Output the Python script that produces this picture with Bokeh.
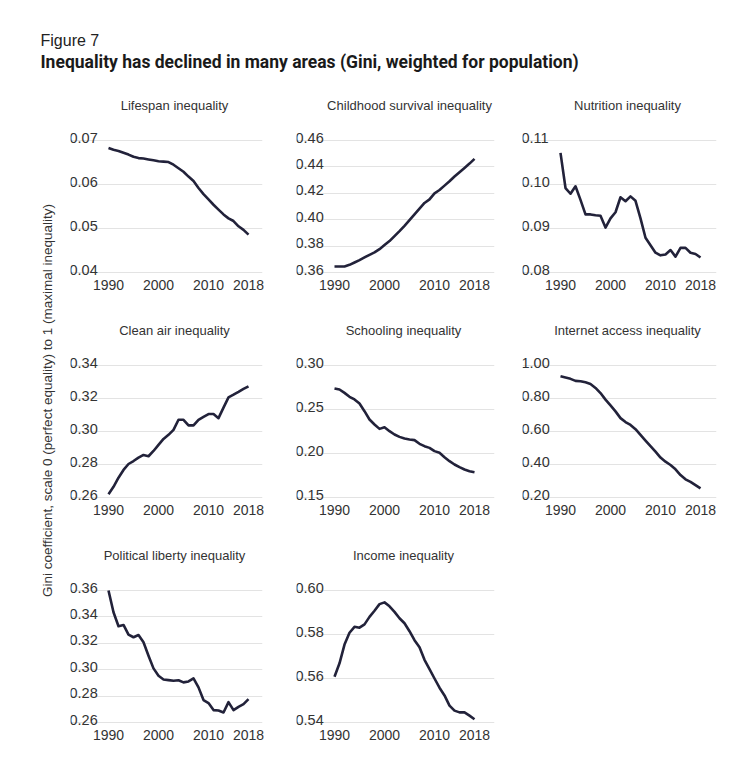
import math
from bokeh.plotting import figure
from bokeh.layouts import column, row, gridplot
from bokeh.models import FixedTicker, Range1d, Label
from bokeh.core.properties import value
from bokeh.embed import file_html
from bokeh.resources import INLINE

# ---------------- data ----------------
years = list(range(1990, 2019))

panel_titles = [
    "Lifespan inequality", "Childhood survival inequality", "Nutrition inequality",
    "Clean air inequality", "Schooling inequality", "Internet access inequality",
    "Political liberty inequality", "Income inequality",
]

lifespan = [0.0683, 0.0679, 0.0676, 0.0672, 0.0668, 0.0663, 0.0660, 0.0659, 0.0657, 0.0655,
            0.0653, 0.0652, 0.0651, 0.0645, 0.0637, 0.0629, 0.0618, 0.0608, 0.0592, 0.0578,
            0.0566, 0.0554, 0.0543, 0.0532, 0.0523, 0.0517, 0.0505, 0.0497, 0.0486]
childhood = [0.3645, 0.3645, 0.3646, 0.3658, 0.3676, 0.3694, 0.3714, 0.3734, 0.3752, 0.3777,
             0.3808, 0.3838, 0.3876, 0.3914, 0.3954, 0.3997, 0.4041, 0.4084, 0.4127, 0.4154,
             0.4200, 0.4225, 0.4258, 0.4291, 0.4327, 0.4360, 0.4392, 0.4425, 0.4461]
nutrition = [0.1072, 0.0992, 0.0979, 0.0996, 0.0965, 0.0932, 0.0932, 0.0930, 0.0929, 0.0902,
             0.0923, 0.0937, 0.0971, 0.0962, 0.0973, 0.0963, 0.0923, 0.0879, 0.0862, 0.0845,
             0.0839, 0.0841, 0.0851, 0.0836, 0.0856, 0.0856, 0.0845, 0.0842, 0.0834]
clean_air = [0.2620, 0.2665, 0.2720, 0.2767, 0.2803, 0.2821, 0.2842, 0.2858, 0.2850, 0.2882,
             0.2919, 0.2955, 0.2980, 0.3010, 0.3071, 0.3071, 0.3037, 0.3037, 0.3071, 0.3089,
             0.3106, 0.3106, 0.3081, 0.3145, 0.3207, 0.3223, 0.3240, 0.3258, 0.3274]
schooling = [0.2739, 0.2727, 0.2689, 0.2644, 0.2614, 0.2568, 0.2481, 0.2386, 0.2330, 0.2280,
             0.2299, 0.2254, 0.2216, 0.2189, 0.2170, 0.2159, 0.2152, 0.2110, 0.2083, 0.2064,
             0.2027, 0.2008, 0.1958, 0.1913, 0.1875, 0.1845, 0.1818, 0.1799, 0.1788]
internet = [0.935, 0.927, 0.919, 0.907, 0.905, 0.898, 0.888, 0.864, 0.833, 0.793,
            0.758, 0.722, 0.681, 0.657, 0.640, 0.614, 0.579, 0.545, 0.512, 0.478,
            0.442, 0.417, 0.397, 0.371, 0.336, 0.310, 0.295, 0.275, 0.255]
political = [0.3600, 0.3435, 0.3329, 0.3339, 0.3266, 0.3246, 0.3263, 0.3208, 0.3106, 0.3010,
             0.2954, 0.2926, 0.2921, 0.2916, 0.2920, 0.2904, 0.2911, 0.2934, 0.2866, 0.2770,
             0.2747, 0.2694, 0.2691, 0.2676, 0.2754, 0.2694, 0.2719, 0.2739, 0.2777]
income = [0.5608, 0.5669, 0.5754, 0.5808, 0.5835, 0.5831, 0.5846, 0.5880, 0.5908, 0.5938,
          0.5946, 0.5928, 0.5903, 0.5874, 0.5851, 0.5815, 0.5774, 0.5742, 0.5685, 0.5643,
          0.5600, 0.5558, 0.5523, 0.5477, 0.5454, 0.5446, 0.5446, 0.5431, 0.5415]

series = [lifespan, childhood, nutrition, clean_air, schooling, internet, political, income]

y_ticks = [
    [0.04, 0.05, 0.06, 0.07],
    [0.36, 0.38, 0.40, 0.42, 0.44, 0.46],
    [0.08, 0.09, 0.10, 0.11],
    [0.26, 0.28, 0.30, 0.32, 0.34],
    [0.15, 0.20, 0.25, 0.30],
    [0.20, 0.40, 0.60, 0.80, 1.00],
    [0.26, 0.28, 0.30, 0.32, 0.34, 0.36],
    [0.54, 0.56, 0.58, 0.60],
]
y_tick_labels = [
    ["0.04", "0.05", "0.06", "0.07"],
    ["0.36", "0.38", "0.40", "0.42", "0.44", "0.46"],
    ["0.08", "0.09", "0.10", "0.11"],
    ["0.26", "0.28", "0.30", "0.32", "0.34"],
    ["0.15", "0.20", "0.25", "0.30"],
    ["0.20", "0.40", "0.60", "0.80", "1.00"],
    ["0.26", "0.28", "0.30", "0.32", "0.34", "0.36"],
    ["0.54", "0.56", "0.58", "0.60"],
]
x_ticks = [1990, 2000, 2010, 2018]
x_tick_labels = ["1990", "2000", "2010", "2018"]

fig_label = "Figure 7"
headline = "Inequality has declined in many areas (Gini, weighted for population)"
y_axis_title = "Gini coefficient, scale 0 (perfect equality) to 1 (maximal inequality)"

# ---------------- style ----------------
FONT = "'Liberation Sans', Arial, sans-serif"
TXT = "#333333"
LINE = "#22223a"
GRID = "#e3e3e3"

COL_FRAME_W = [192, 198, 194]
COL_BORDER_L = [14, 24, 24]
COL_BORDER_R = [10, 4, 8]
PX_PER_YEAR = 5.0
X_START = 1982.4
GRID_TOP_PAD, GRID_SPAN, GRID_BOT_PAD = 50, 132, 3
FRAME_H = GRID_TOP_PAD + GRID_SPAN + GRID_BOT_PAD
CELL_H = 225
BORDER_TOP = 2


def make_panel(i):
    col = i % 3
    fw = COL_FRAME_W[col]
    ticks = y_ticks[i]
    T, B = max(ticks), min(ticks)
    span = T - B
    y0 = B - GRID_BOT_PAD / GRID_SPAN * span
    y1 = T + GRID_TOP_PAD / GRID_SPAN * span
    x0 = X_START
    x1 = x0 + fw / PX_PER_YEAR
    p = figure(frame_width=fw, frame_height=FRAME_H,
               x_range=Range1d(x0, x1), y_range=Range1d(y0, y1),
               toolbar_location=None, output_backend="svg",
               min_border_left=COL_BORDER_L[col], min_border_right=COL_BORDER_R[col],
               min_border_top=BORDER_TOP, min_border_bottom=CELL_H - BORDER_TOP - FRAME_H)
    p.outline_line_color = None
    p.background_fill_color = "white"
    p.border_fill_color = "white"
    p.yaxis.visible = False
    p.xgrid.visible = False
    p.ygrid.ticker = FixedTicker(ticks=ticks)
    p.ygrid.grid_line_color = GRID
    p.ygrid.grid_line_width = 1

    ax = p.xaxis[0]
    ax.ticker = FixedTicker(ticks=x_ticks)
    ax.major_label_overrides = {t: l for t, l in zip(x_ticks, x_tick_labels)}
    ax.axis_line_color = None
    ax.major_tick_line_color = None
    ax.minor_tick_line_color = None
    ax.major_tick_out = 0
    ax.major_tick_in = 0
    ax.major_label_standoff = 4
    ax.major_label_text_font = FONT
    ax.major_label_text_font_size = "14px"
    ax.major_label_text_color = TXT

    # panel title near the top of the frame
    p.add_layout(Label(x=(x0 + x1) / 2, y=y1, text=panel_titles[i],
                       x_offset=14 if i == 1 else 8, y_offset=-15,
                       text_align="center", text_baseline="middle",
                       text_font=FONT, text_font_size="13px", text_color=TXT))

    p.text(x=[x0] * len(ticks), y=ticks, text=y_tick_labels[i],
           text_align="left", text_baseline="alphabetic", x_offset=-1, y_offset=-3,
           text_font=value(FONT), text_font_size="14.5px", text_color=TXT)
    p.line(years, series[i], line_color=LINE, line_width=2.6, line_join="round")
    return p


panels = [make_panel(i) for i in range(8)]
grid = gridplot([[panels[0], panels[1], panels[2]],
                 [panels[3], panels[4], panels[5]],
                 [panels[6], panels[7], None]], toolbar_location=None)

# header
HEAD_H = 88
head = figure(width=742, height=HEAD_H, x_range=Range1d(0, 742), y_range=Range1d(HEAD_H, 0),
              x_axis_location=None, y_axis_location=None, toolbar_location=None,
              output_backend="svg", min_border=0)
head.outline_line_color = None
head.grid.visible = False
head.text(x=[40], y=[40], text=[fig_label], text_align="left", text_baseline="middle",
          text_font=value(FONT), text_font_size="16px", text_color="#222222")
head.text(x=[40], y=[61], text=[headline], text_align="left", text_baseline="middle",
          text_font=value("'Liberation Sans Narrow', 'Roboto', sans-serif"),
          text_font_size="17.5px", text_font_style="bold", text_color="#1a1a1a")

# y axis title column
YL_W, YL_H = 56, 675
ylab = figure(width=YL_W, height=YL_H, x_range=Range1d(0, YL_W), y_range=Range1d(YL_H, 0),
              x_axis_location=None, y_axis_location=None, toolbar_location=None,
              output_backend="svg", min_border=0)
ylab.outline_line_color = None
ylab.grid.visible = False
ylab.text(x=[47], y=[400 - HEAD_H], text=[y_axis_title], angle=math.pi / 2,
          text_align="center", text_baseline="middle",
          text_font=value(FONT), text_font_size="13.5px", text_color=TXT)

layout = column(head, row(ylab, grid))

open("out.html", "w").write(file_html(layout, INLINE))
